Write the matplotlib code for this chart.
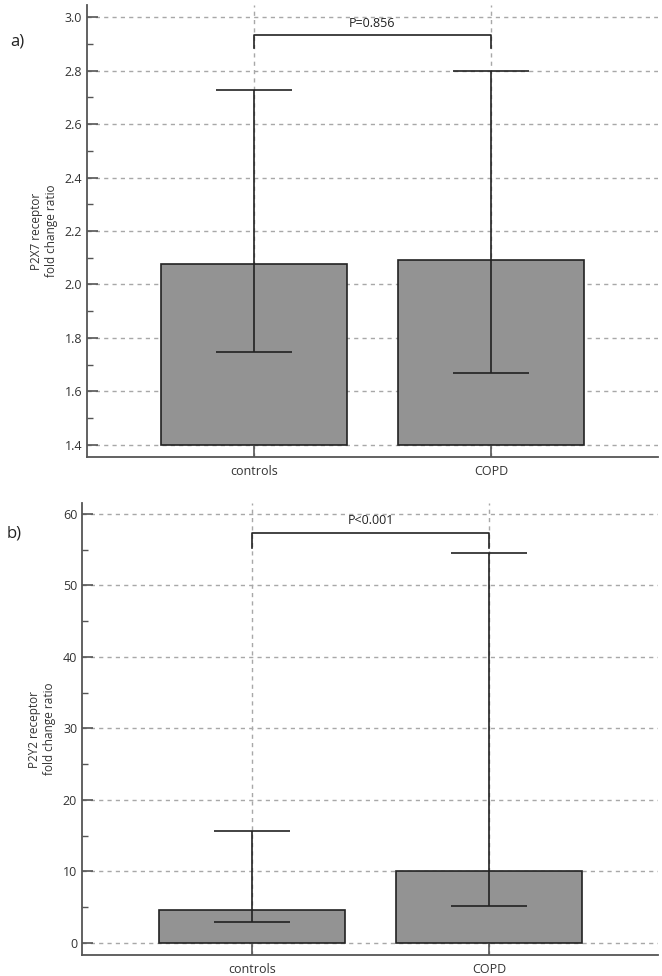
import matplotlib
matplotlib.use('Agg')
import matplotlib.pyplot as plt
from matplotlib.ticker import MultipleLocator, FormatStrFormatter

plt.rcParams['font.family'] = ['Open Sans', 'DejaVu Sans']

groups = ['controls', 'COPD']

# panel a: P2X7
p2x7_bar = [2.075, 2.093]
p2x7_low = [1.748, 1.668]
p2x7_high = [2.727, 2.80]
p2x7_p = 'P=0.856'

# panel b: P2Y2
p2y2_bar = [4.6, 10.0]
p2y2_low = [2.9, 5.2]
p2y2_high = [15.7, 54.5]
p2y2_p = 'P<0.001'

bar_color = '#939393'
grid_color = '#a8a8a8'
spine_color = '#555555'


def draw_panel(ax, vals, lows, highs, base, ylim, major, minor, ylabel, ptext,
               brk_y, brk_drop, txt_y, xlim):
    x = list(range(len(groups)))
    ax.set_xlim(*xlim)
    ax.set_ylim(*ylim)
    ax.yaxis.set_major_locator(MultipleLocator(major))
    ax.yaxis.set_minor_locator(MultipleLocator(minor))
    ax.set_xticks(x)
    ax.set_xticklabels(groups)

    ax.grid(True, which='major', axis='both', linestyle=(0, (3, 3)),
            color=grid_color, linewidth=1.0, zorder=0)
    ax.set_axisbelow(True)

    heights = [v - base for v in vals]
    ax.bar(x, heights, bottom=base, width=0.785, color=bar_color,
           edgecolor='#222222', linewidth=1.2, zorder=2)
    yerr = [[v - lo for v, lo in zip(vals, lows)],
            [hi - v for v, hi in zip(vals, highs)]]
    ax.errorbar(x, vals, yerr=yerr, fmt='none', ecolor='#222222',
                elinewidth=1.2, capsize=27.5, capthick=1.2, zorder=3)

    # significance bracket
    ax.plot([x[0], x[0], x[1], x[1]], [brk_drop, brk_y, brk_y, brk_drop],
            color='#222222', linewidth=1.2, zorder=3, clip_on=False)
    ax.text((x[0] + x[1]) / 2, txt_y, ptext, ha='center', va='center',
            fontsize=9, color='#222222')

    for s in ['top', 'right']:
        ax.spines[s].set_visible(False)
    for s in ['left', 'bottom']:
        ax.spines[s].set_color(spine_color)
        ax.spines[s].set_linewidth(1.3)
    ax.tick_params(axis='both', which='major', direction='in', length=8,
                   width=1.2, color=spine_color, labelsize=9,
                   labelcolor='#333333')
    ax.tick_params(axis='y', which='minor', direction='in', length=4,
                   width=1.0, color=spine_color)
    ax.tick_params(axis='x', pad=6)
    ax.set_ylabel(ylabel, fontsize=8.5, color='#333333', labelpad=5)


fig = plt.figure(figsize=(6.62, 9.76), dpi=100)

ax1 = fig.add_axes([87 / 662, 1 - 457 / 976, 571 / 662, 452 / 976])
draw_panel(ax1, p2x7_bar, p2x7_low, p2x7_high, 1.4, (1.355, 3.045), 0.2, 0.1,
           'P2X7 receptor\nfold change ratio', p2x7_p,
           2.933, 2.884, 2.975, (-0.705, 1.705))
ax1.yaxis.set_major_formatter(FormatStrFormatter('%.1f'))

ax2 = fig.add_axes([82 / 662, 1 - 955 / 976, 576 / 662, 452 / 976])
draw_panel(ax2, p2y2_bar, p2y2_low, p2y2_high, 0, (-1.68, 61.5), 10, 5,
           'P2Y2 receptor\nfold change ratio', p2y2_p,
           57.3, 55.2, 59.1, (-0.717, 1.713))

fig.text(10 / 662, 1 - 42 / 976, 'a)', fontsize=12, color='#222222', va='center')
fig.text(7 / 662, 1 - 534 / 976, 'b)', fontsize=12, color='#222222', va='center')

fig.savefig('out.png', dpi=100)
